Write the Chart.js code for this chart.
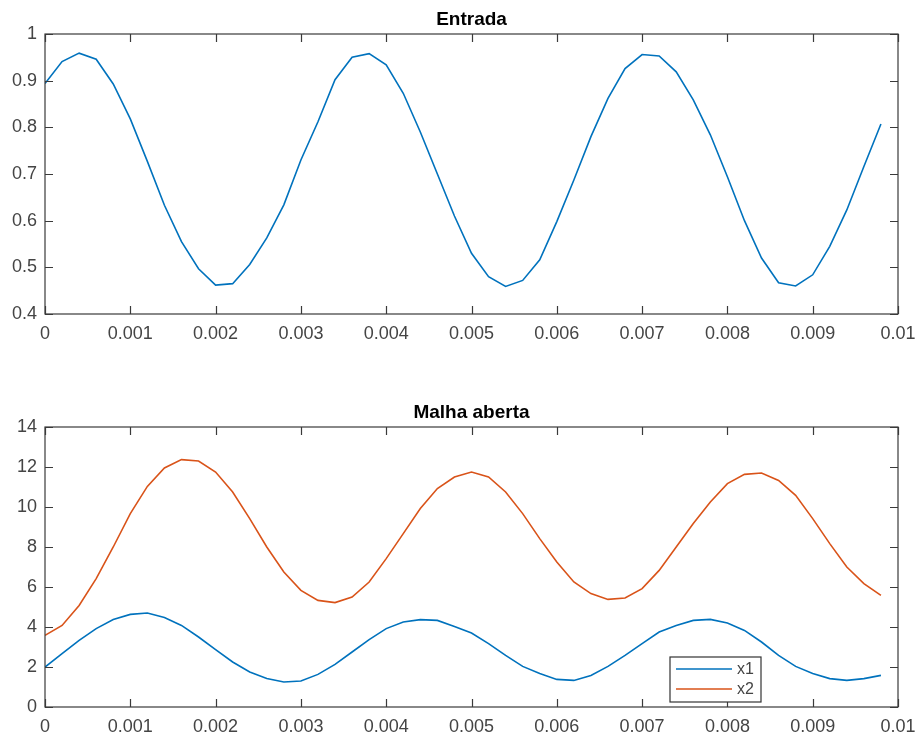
<!DOCTYPE html>
<html>
<head>
<meta charset="utf-8">
<script src="https://cdn.jsdelivr.net/npm/chart.js@4"></script>
<style>
  body { margin: 0; background: #fff; }
  canvas { display: block; }
</style>
</head>
<body>
<canvas id="entradaChart" width="920" height="350"></canvas>
<canvas id="malhaChart" width="920" height="390"></canvas>
<script>
// sample times (s)
const timeSteps = [
  0, 0.0002, 0.0004, 0.0006, 0.0008, 0.0010, 0.0012, 0.0014, 0.0016, 0.0018,
  0.0020, 0.0022, 0.0024, 0.0026, 0.0028, 0.0030, 0.0032, 0.0034, 0.0036, 0.0038,
  0.0040, 0.0042, 0.0044, 0.0046, 0.0048, 0.0050, 0.0052, 0.0054, 0.0056, 0.0058,
  0.0060, 0.0062, 0.0064, 0.0066, 0.0068, 0.0070, 0.0072, 0.0074, 0.0076, 0.0078,
  0.0080, 0.0082, 0.0084, 0.0086, 0.0088, 0.0090, 0.0092, 0.0094, 0.0096, 0.0098
];

// Entrada
const entradaValues = [
  0.894, 0.941, 0.959, 0.946, 0.893, 0.818, 0.727, 0.633, 0.555, 0.497,
  0.462, 0.465, 0.506, 0.563, 0.634, 0.730, 0.812, 0.902, 0.950, 0.958,
  0.934, 0.873, 0.790, 0.700, 0.610, 0.530, 0.480, 0.459, 0.472, 0.516,
  0.598, 0.687, 0.780, 0.862, 0.926, 0.956, 0.953, 0.919, 0.859, 0.784,
  0.694, 0.600, 0.520, 0.467, 0.460, 0.484, 0.545, 0.623, 0.716, 0.807
];

// Malha aberta
const x1Values = [
  2.00, 2.67, 3.33, 3.92, 4.37, 4.63, 4.70, 4.47, 4.08, 3.50,
  2.87, 2.25, 1.75, 1.42, 1.25, 1.30, 1.63, 2.13, 2.75, 3.37,
  3.92, 4.25, 4.37, 4.33, 4.03, 3.70, 3.17, 2.58, 2.03, 1.67,
  1.38, 1.33, 1.58, 2.03, 2.58, 3.17, 3.75, 4.08, 4.33, 4.38,
  4.20, 3.83, 3.25, 2.58, 2.03, 1.67, 1.42, 1.33, 1.42, 1.58
];
const x2Values = [
  3.58, 4.08, 5.08, 6.42, 8.00, 9.67, 11.03, 11.95, 12.37, 12.30,
  11.75, 10.75, 9.42, 8.00, 6.75, 5.83, 5.33, 5.22, 5.50, 6.25,
  7.42, 8.67, 9.92, 10.92, 11.50, 11.75, 11.50, 10.75, 9.67, 8.42,
  7.25, 6.25, 5.67, 5.38, 5.45, 5.92, 6.83, 8.00, 9.17, 10.25,
  11.17, 11.63, 11.70, 11.33, 10.58, 9.42, 8.17, 7.00, 6.17, 5.58
];

const xTickStep = 0.001;
const entradaRange = [0.4, 1];
const malhaRange = [0, 14];

const FONT = "'Liberation Sans', Arial, sans-serif";
const TICK_COLOR = '#444';
const AXIS_COLOR = '#3a3a3a';
const BLUE = '#0072BD';
const ORANGE = '#D95319';

const pts = vals => timeSteps.map((t, i) => ({ x: t, y: vals[i] }));

// MATLAB-ish box, inward ticks, title and legend
const matlabAxes = {
  id: 'matlabAxes',
  afterDraw(chart, args, opts) {
    const ctx = chart.ctx;
    const ca = chart.chartArea;
    const xs = chart.scales.x, ys = chart.scales.y;
    const tl = 8;
    ctx.save();
    ctx.strokeStyle = AXIS_COLOR;
    ctx.lineWidth = 1.2;
    ctx.strokeRect(ca.left, ca.top, ca.right - ca.left, ca.bottom - ca.top);
    ctx.beginPath();
    xs.ticks.forEach(t => {
      const px = Math.round(xs.getPixelForValue(t.value)) + 0.5;
      ctx.moveTo(px, ca.bottom); ctx.lineTo(px, ca.bottom - tl);
      ctx.moveTo(px, ca.top); ctx.lineTo(px, ca.top + tl);
    });
    ys.ticks.forEach(t => {
      const py = Math.round(ys.getPixelForValue(t.value)) + 0.5;
      ctx.moveTo(ca.left, py); ctx.lineTo(ca.left + tl, py);
      ctx.moveTo(ca.right, py); ctx.lineTo(ca.right - tl, py);
    });
    ctx.stroke();

    // title
    ctx.fillStyle = '#000';
    ctx.font = 'bold 19px ' + FONT;
    ctx.textAlign = 'center';
    ctx.textBaseline = 'alphabetic';
    ctx.fillText(opts.title, (ca.left + ca.right) / 2, ca.top - 9);

    // legend box
    if (opts.legend) {
      const w = 91, h = 45;
      const bx = ca.right - 137 - w, by = ca.bottom - 5 - h;
      ctx.fillStyle = '#fff';
      ctx.fillRect(bx, by, w, h);
      ctx.strokeStyle = '#333';
      ctx.lineWidth = 1.2;
      ctx.strokeRect(bx, by, w, h);
      ctx.font = '16px ' + FONT;
      ctx.textAlign = 'left';
      ctx.textBaseline = 'middle';
      chart.data.datasets.forEach((ds, i) => {
        const ry = by + 12 + i * 20;
        ctx.strokeStyle = ds.borderColor;
        ctx.lineWidth = 1.5;
        ctx.beginPath();
        ctx.moveTo(bx + 6, ry); ctx.lineTo(bx + 62, ry);
        ctx.stroke();
        ctx.fillStyle = TICK_COLOR;
        ctx.fillText(ds.label, bx + 67, ry + 1);
      });
    }
    ctx.restore();
  }
};

function makeChart(id, datasets, range, yStep, title, showLegend, padTop, xHeight) {
  return new Chart(document.getElementById(id), {
    type: 'line',
    data: { datasets: datasets },
    options: {
      responsive: false,
      animation: false,
      events: [],
      layout: { padding: { top: padTop, right: 22, left: 0, bottom: 0 } },
      plugins: {
        legend: { display: false },
        tooltip: { enabled: false },
        title: { display: false },
        matlabAxes: { title: title, legend: showLegend }
      },
      elements: {
        point: { radius: 0 },
        line: { borderWidth: 1.6, tension: 0 }
      },
      scales: {
        x: {
          type: 'linear',
          min: 0,
          max: 0.01,
          grid: { display: false, drawTicks: false },
          border: { display: false },
          ticks: {
            stepSize: xTickStep,
            autoSkip: false,
            maxRotation: 0,
            padding: 9,
            color: TICK_COLOR,
            font: { family: FONT, size: 18 },
            callback: v => String(+v.toFixed(3))
          },
          afterFit: s => {
            s.height = xHeight;
            s.paddingLeft = 0;
            s.paddingRight = 0;
          }
        },
        y: {
          min: range[0],
          max: range[1],
          grid: { display: false, drawTicks: false },
          border: { display: false },
          ticks: {
            stepSize: yStep,
            padding: 8,
            color: TICK_COLOR,
            font: { family: FONT, size: 18 },
            callback: v => String(+v.toFixed(1))
          },
          afterFit: s => {
            s.width = 45;
            s.paddingTop = 0;
            s.paddingBottom = 0;
          }
        }
      }
    },
    plugins: [matlabAxes]
  });
}

makeChart('entradaChart', [
  { label: 'Entrada', data: pts(entradaValues), borderColor: BLUE, fill: false }
], entradaRange, 0.1, 'Entrada', false, 34, 36);

makeChart('malhaChart', [
  { label: 'x1', data: pts(x1Values), borderColor: BLUE, fill: false },
  { label: 'x2', data: pts(x2Values), borderColor: ORANGE, fill: false }
], malhaRange, 2, 'Malha aberta', true, 77, 33);
</script>
</body>
</html>
